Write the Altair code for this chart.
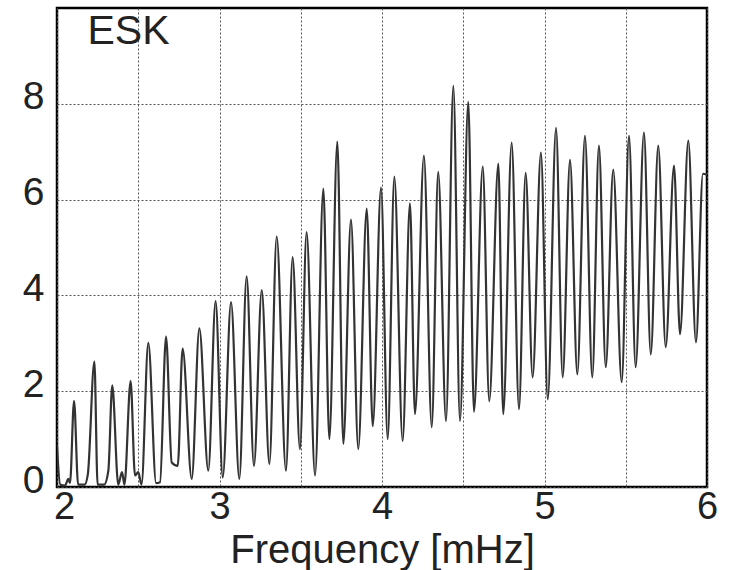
import altair as alt
import pandas as pd

# Spectrum (frequency in mHz, amplitude)
freq = [2.0, 2.02, 2.05, 2.07, 2.08, 2.105, 2.13, 2.17, 2.19, 2.23, 2.25, 2.29, 2.316, 2.34,
        2.377, 2.40, 2.415, 2.453, 2.48, 2.50, 2.52, 2.562, 2.61, 2.634, 2.671, 2.706, 2.743,
        2.773, 2.829, 2.876, 2.931, 2.976, 3.02, 3.071, 3.122, 3.167, 3.212, 3.26, 3.307,
        3.352, 3.409, 3.45, 3.495, 3.536, 3.588, 3.639, 3.676, 3.725, 3.762, 3.809, 3.854,
        3.906, 3.943, 3.994, 4.035, 4.076, 4.127, 4.172, 4.203, 4.258, 4.306, 4.346, 4.394,
        4.439, 4.48, 4.531, 4.566, 4.62, 4.66, 4.716, 4.746, 4.798, 4.843, 4.884, 4.927,
        4.978, 5.02, 5.071, 5.112, 5.157, 5.202, 5.249, 5.294, 5.335, 5.377, 5.423, 5.475,
        5.52, 5.561, 5.612, 5.654, 5.7, 5.746, 5.797, 5.834, 5.885, 5.932, 5.975, 6.0]
amp = [0.86, 0.05, 0.03, 0.17, 0.08, 1.8, 0.05, 0.05, 0.27, 2.62, 0.05, 0.05, 0.34, 2.12,
       0.05, 0.31, 0.05, 2.21, 0.24, 0.31, 0.05, 3.01, 0.08, 0.1, 3.14, 0.51, 0.44,
       2.89, 0.17, 3.31, 0.34, 3.88, 0.2, 3.86, 0.17, 4.4, 0.44, 4.11, 0.48,
       5.23, 0.34, 4.8, 0.79, 5.32, 0.24, 6.23, 1.0, 7.21, 0.9, 5.58, 0.79,
       5.81, 1.27, 6.25, 1.0, 6.48, 0.96, 5.92, 1.52, 6.92, 1.25, 6.58, 1.375,
       8.375, 1.375, 8.04, 1.57, 6.69, 1.79, 6.75, 1.52, 7.19, 1.625, 6.56, 2.29,
       6.98, 1.83, 7.5, 2.29, 6.83, 2.35, 7.33, 2.29, 7.125, 2.5, 6.625, 2.19,
       7.33, 2.5, 7.4, 2.77, 7.125, 2.92, 6.71, 3.19, 7.23, 3.02, 6.54, 6.52]

x_labels = [2, 3, 4, 5, 6]
x_grid = [2, 2.5, 3, 3.5, 4, 4.5, 5, 5.5, 6]
y_ticks = [0, 2, 4, 6, 8]

label_text = ["ESK"]
label_x = [2.44]
label_y = [9.5]

df = pd.DataFrame({"f": freq, "a": amp})
lab = pd.DataFrame({"t": label_text, "f": label_x, "a": label_y})

FONT = "Liberation Sans"

xscale = alt.Scale(domain=[2, 6], nice=False, zero=False)
yscale = alt.Scale(domain=[0, 10], nice=False)

label_expr = "indexof(" + str(x_labels) + ", datum.value) >= 0 ? format(datum.value, 'd') : ''"

line = alt.Chart(df).mark_line(
    color="#333333", strokeWidth=2.2, interpolate="monotone", clip=True
).encode(
    x=alt.X("f:Q", scale=xscale,
            axis=alt.Axis(values=x_grid, title="Frequency [mHz]",
                          labelExpr=label_expr,
                          labelFontSize=38, titleFontSize=40, titleFontWeight="normal",
                          labelPadding=1, titlePadding=4, labelFlush=False,
                          labelOffset={"condition": {"test": "datum.value == 2", "value": 7}, "value": 0},
                          ticks=False, domain=False,
                          labelColor="#222", titleColor="#222",
                          gridDash=[2, 2], gridColor="#555", gridWidth=1)),
    y=alt.Y("a:Q", scale=yscale,
            axis=alt.Axis(values=y_ticks, title=None, labelFontSize=39,
                          labelPadding=13, labelOffset=-7, ticks=False, domain=False,
                          labelColor="#222",
                          gridDash=[2, 2], gridColor="#555", gridWidth=1)),
)

text = alt.Chart(lab).mark_text(
    fontSize=41, font=FONT, color="#222", align="center", baseline="middle"
).encode(x=alt.X("f:Q", scale=xscale), y=alt.Y("a:Q", scale=yscale), text="t:N")

chart = alt.layer(line, text).properties(
    width=650, height=479,
    autosize=alt.AutoSizeParams(type="none"),
    padding={"left": 57, "top": 8, "right": 31, "bottom": 83},
    background="white",
).configure_view(
    stroke="black", strokeWidth=2.5
).configure_axis(
    labelFont=FONT, titleFont=FONT
)

chart.save("out.html", embed_options={"renderer": "svg", "actions": False})
